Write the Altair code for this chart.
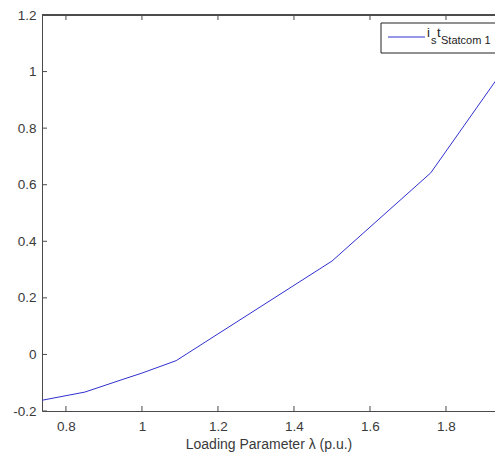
import altair as alt
import pandas as pd

# data
lam = [0.737, 0.85, 0.95, 1.0, 1.09, 1.5, 1.76, 1.94]
i_st = [-0.162, -0.133, -0.088, -0.066, -0.022, 0.33, 0.642, 0.985]

x_ticks = [0.8, 1.0, 1.2, 1.4, 1.6, 1.8]
y_ticks = [-0.2, 0, 0.2, 0.4, 0.6, 0.8, 1, 1.2]

X_DOMAIN = [0.737, 1.929]
Y_DOMAIN = [-0.2, 1.2]
W, H = 453, 396
FONT = "Liberation Sans"
AX = "#4a4a4a"

df = pd.DataFrame({"lam": lam, "v": i_st})
xt = pd.DataFrame({"x": x_ticks})
yt = pd.DataFrame({"y": y_ticks})

xscale = alt.Scale(domain=X_DOMAIN, nice=False, zero=False)
yscale = alt.Scale(domain=Y_DOMAIN, nice=False, zero=False)

line = alt.Chart(df).mark_line(color="#3030d0", strokeWidth=1, clip=True).encode(
    x=alt.X("lam:Q", scale=xscale,
            axis=alt.Axis(values=x_ticks, ticks=False, grid=False,
                          title="Loading Parameter λ (p.u.)",
                          labelExpr="'' + datum.value",
                          labelPadding=8, titlePadding=5)),
    y=alt.Y("v:Q", scale=yscale,
            axis=alt.Axis(values=y_ticks, ticks=False, grid=False, title=None,
                          labelExpr="'' + datum.value",
                          labelPadding=6)),
)

# inward ticks
bottom_ticks = alt.Chart(xt).mark_rule(color=AX, strokeWidth=1).encode(
    x=alt.X("x:Q", scale=xscale), y=alt.value(H), y2=alt.value(H - 5))
top_ticks = alt.Chart(xt).mark_rule(color=AX, strokeWidth=1).encode(
    x=alt.X("x:Q", scale=xscale), y=alt.value(0), y2=alt.value(5))
left_ticks = alt.Chart(yt).mark_rule(color=AX, strokeWidth=1).encode(
    y=alt.Y("y:Q", scale=yscale), x=alt.value(0), x2=alt.value(5))
top_border = alt.Chart(xt).mark_rule(color=AX, strokeWidth=1).encode(
    x=alt.value(0), x2=alt.value(W + 5), y=alt.value(0))

# legend box
leg_df = pd.DataFrame({"k": [0]})
leg_box = alt.Chart(leg_df).mark_rect(fill="white", stroke="#222222", strokeWidth=1).encode(
    x=alt.value(339), x2=alt.value(W + 5), y=alt.value(8), y2=alt.value(38))
leg_line = alt.Chart(leg_df).mark_rule(color="#3030d0", strokeWidth=1).encode(
    x=alt.value(346), x2=alt.value(383), y=alt.value(22))
leg_txt = []
for t, xp, yp, fs in [("i", 385, 22, 13), ("s", 389, 29, 11), ("t", 395, 22, 13),
                      ("Statcom 1", 399, 29, 11)]:
    leg_txt.append(alt.Chart(leg_df).mark_text(
        text=t, font=FONT, fontSize=fs, color="#222222", align="left", baseline="alphabetic"
    ).encode(x=alt.value(xp), y=alt.value(yp)))

chart = alt.layer(line, bottom_ticks, top_ticks, left_ticks, top_border,
                  leg_box, leg_line, *leg_txt).properties(
    width=W, height=H,
    padding={"left": 42, "top": 15, "right": 0, "bottom": 41},
    autosize=alt.AutoSizeParams(type="none"),
    background="white",
).configure_view(stroke=None).configure_axis(
    domainColor=AX, labelColor="#3a3a3a", titleColor="#3a3a3a",
    labelFont=FONT, titleFont=FONT, labelFontSize=13.5, titleFontSize=14,
    titleFontWeight="normal",
)

chart.save("out.html", embed_options={"renderer": "svg", "actions": False})
